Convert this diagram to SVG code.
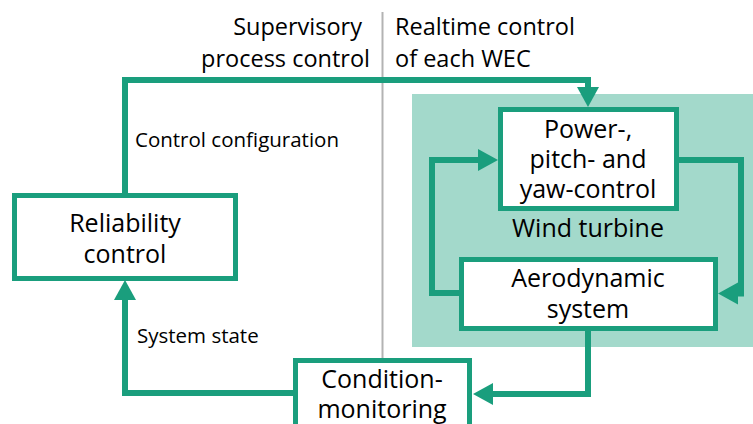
<svg xmlns="http://www.w3.org/2000/svg" width="753" height="424" viewBox="0 0 753 424">
<style>
.box{fill:#fff;stroke:#1a9e7d;stroke-width:5}
.conn{fill:none;stroke:#1a9e7d;stroke-width:6;marker-end:url(#ah)}
.t{font-family:"Open Sans","DejaVu Sans",sans-serif;fill:#000}
.node{font-size:25px;text-anchor:middle}
.lbl{font-size:23.5px}
.sm{font-size:20.5px}
</style>
<defs>
<marker id="ah" markerUnits="userSpaceOnUse" markerWidth="22" markerHeight="24" refX="0" refY="11" orient="auto" overflow="visible">
<path d="M0,0 L20,11 L0,22 z" fill="#1a9e7d"/>
</marker>
</defs>
<rect x="0" y="0" width="753" height="424" fill="#fff"/>
<rect id="wind-turbine-area" x="412" y="94" width="341" height="253" fill="#a3d9cb"/>
<line x1="382.5" y1="12" x2="382.5" y2="360" stroke="#b3b3b3" stroke-width="2"/>
<text class="t lbl" x="362" y="35" text-anchor="end">Supervisory</text>
<text class="t lbl" x="370" y="67" text-anchor="end">process control</text>
<text class="t lbl" x="395" y="35">Realtime control</text>
<text class="t lbl" x="395" y="67">of each WEC</text>
<text class="t node" x="588" y="237">Wind turbine</text>
<g id="connectors">
<path class="conn" d="M125,193 V80 H588 V87"/>
<path class="conn" d="M459,293 H432 V160 H478"/>
<path class="conn" d="M677,160 H741 V293.5 H738"/>
<path class="conn" d="M588,331 V394 H493"/>
<path class="conn" d="M293,393 H125 V300"/>
<text class="t sm" x="135" y="147">Control configuration</text>
<text class="t sm" x="137" y="343">System state</text>
</g>
<g id="reliability-control">
<rect class="box" x="14.5" y="195.5" width="221" height="83"/>
<text class="t node" x="125" y="232">Reliability</text>
<text class="t node" x="125" y="263">control</text>
</g>
<g id="power-pitch-yaw-control">
<rect class="box" x="500.5" y="109.5" width="176" height="99"/>
<text class="t node" x="588" y="138">Power-,</text>
<text class="t node" x="588" y="168">pitch- and</text>
<text class="t node" x="588" y="198">yaw-control</text>
</g>
<g id="aerodynamic-system">
<rect class="box" x="461.5" y="259.5" width="254" height="69"/>
<text class="t node" x="588" y="287">Aerodynamic</text>
<text class="t node" x="588" y="318">system</text>
</g>
<g id="condition-monitoring">
<rect class="box" x="295.5" y="360.5" width="174" height="80"/>
<text class="t node" x="382" y="388">Condition-</text>
<text class="t node" x="382" y="418">monitoring</text>
</g>
</svg>
